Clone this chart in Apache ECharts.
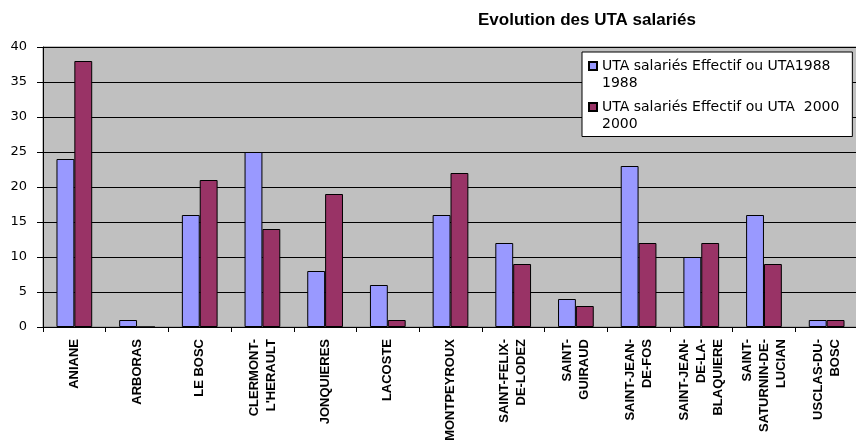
<!DOCTYPE html>
<html>
<head>
<meta charset="utf-8">
<script src="https://cdn.jsdelivr.net/npm/echarts@6/dist/echarts.min.js"></script>
<style>
  html, body { margin: 0; padding: 0; background: #fff; }
  #chart { width: 856px; height: 440px; }
</style>
</head>
<body>
<div id="chart"></div>
<script>
// communes (libellés sur deux ou trois lignes comme dans l'original)
const communes = [
  'ANIANE', 'ARBORAS', 'LE BOSC', 'CLERMONT-\nL\'HERAULT', 'JONQUIERES',
  'LACOSTE', 'MONTPEYROUX', 'SAINT-FELIX-\nDE-LODEZ', 'SAINT-\nGUIRAUD',
  'SAINT-JEAN-\nDE-FOS', 'SAINT-JEAN-\nDE-LA-\nBLAQUIERE',
  'SAINT-\nSATURNIN-DE-\nLUCIAN', 'USCLAS-DU-\nBOSC'
]
const uta1988 = [24, 1, 16, 25, 8, 6, 16, 12, 4, 23, 10, 16, 1]
const uta2000 = [38, 0, 21, 14, 19, 1, 22, 9, 3, 12, 12, 9, 1]
const seriesNames = [
  'UTA salariés Effectif ou UTA1988\n1988',
  'UTA salariés Effectif ou UTA  2000\n2000'
]
const yTicks = [0, 5, 10, 15, 20, 25, 30, 35, 40]

const chart = echarts.init(document.getElementById('chart'))

const option = {
  backgroundColor: '#fff',
  animation: false,
  title: {
    text: 'Evolution des UTA salariés',
    left: 478,
    top: 12,
    padding: 0,
    textStyle: {
      fontFamily: 'Liberation Sans',
      fontSize: 17,
      fontWeight: 'bold',
      color: '#000'
    }
  },
  legend: {
    data: seriesNames,
    orient: 'vertical',
    left: 582,
    top: 52,
    padding: [-11.5, 13, 4, 6],
    itemGap: -10,
    itemWidth: 8,
    itemHeight: 8,
    icon: 'rect',
    backgroundColor: '#fff',
    borderColor: '#000',
    borderWidth: 1,
    borderRadius: 0,
    // ligne vide en tête pour aligner le carré sur la première ligne
    formatter: (name) => '\n' + name,
    textStyle: {
      fontFamily: 'DejaVu Sans',
      fontSize: 14,
      color: '#000',
      lineHeight: 17
    }
  },
  grid: {
    left: 43,
    top: 47,
    right: -2,
    bottom: 113,
    outerBoundsMode: 'none',
    show: true,
    backgroundColor: '#c0c0c0',
    borderColor: '#808080',
    borderWidth: 1
  },
  xAxis: {
    type: 'category',
    data: communes,
    axisLine: { lineStyle: { color: '#000', width: 1 } },
    axisTick: { show: true, length: 5, lineStyle: { color: '#000' } },
    axisLabel: {
      interval: 0,
      rotate: 90,
      margin: 12,
      color: '#000',
      fontFamily: 'Liberation Sans',
      fontWeight: 'bold',
      fontSize: 13,
      lineHeight: 17
    }
  },
  yAxis: {
    type: 'value',
    min: yTicks[0],
    max: yTicks[yTicks.length - 1],
    interval: 5,
    axisLine: { show: true, lineStyle: { color: '#000', width: 1 } },
    axisTick: { show: true, length: 6, lineStyle: { color: '#000' } },
    splitLine: { lineStyle: { color: '#000', width: 1 } },
    axisLabel: {
      margin: 16,
      color: '#000',
      fontFamily: 'DejaVu Sans',
      fontSize: 13
    }
  },
  series: [
    {
      name: seriesNames[0],
      type: 'bar',
      data: uta1988,
      barGap: '0%',
      barCategoryGap: '43%',
      itemStyle: { color: '#9999ff', borderColor: '#000', borderWidth: 1 }
    },
    {
      name: seriesNames[1],
      type: 'bar',
      data: uta2000,
      itemStyle: { color: '#993366', borderColor: '#000', borderWidth: 1 }
    }
  ]
}

chart.setOption(option)
</script>
</body>
</html>
